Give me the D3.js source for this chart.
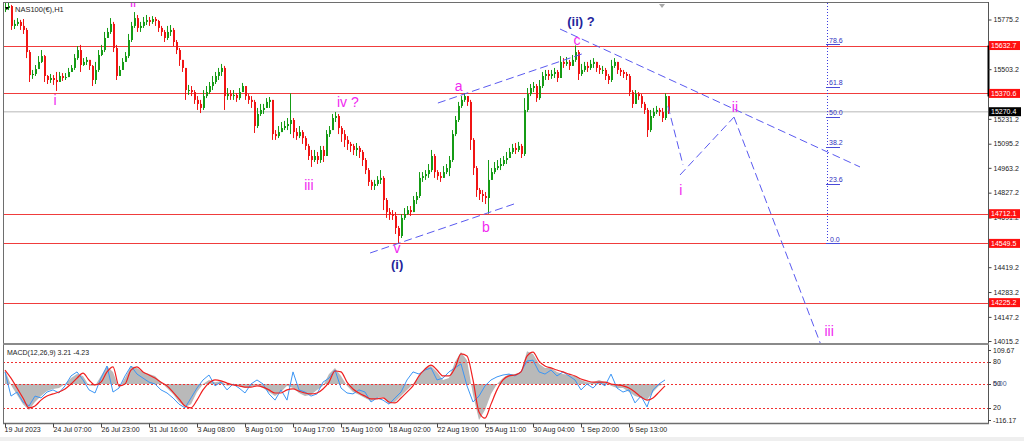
<!DOCTYPE html>
<html><head><meta charset="utf-8">
<script src="https://cdn.jsdelivr.net/npm/d3@7"></script>
<style>body{margin:0;background:#fff;overflow:hidden}svg{display:block}</style>
</head><body><svg id="c" width="1024" height="441"></svg>
<script>
// ---------- DATA ----------
const firstOpen = 15830;
const closes = [
15838,15849,15740,15751,15762,15740,15718,15597,15471,15477,
15504,15543,15575,15466,15444,15455,15444,15433,15466,15455,
15460,15488,15510,15564,15608,15526,15543,15554,15521,15444,
15499,15581,15608,15674,15707,15751,15619,15466,15499,15543,
15575,15663,15740,15783,15729,15740,15762,15772,15762,15778,
15767,15729,15707,15674,15707,15718,15652,15608,15554,15510,
15389,15389,15378,15335,15313,15291,15356,15378,15411,15433,
15466,15488,15510,15356,15367,15356,15362,15345,15378,15411,
15356,15335,15324,15192,15258,15280,15291,15324,15335,15148,
15137,15159,15181,15192,15203,15225,15159,15137,15159,15126,
15083,15028,15006,15028,15006,15061,15028,15148,15170,15236,
15247,15181,15148,15116,15094,15083,15061,15072,15050,15006,
14951,14886,14864,14875,14897,14908,14787,14721,14710,14700,
14634,14590,14689,14710,14732,14721,14787,14809,14908,14918,
14929,14951,15028,14940,14918,14908,14940,14962,15006,15148,
15225,15302,15335,15356,15324,15116,14962,14842,14820,14809,
14798,14897,14940,14962,14973,14984,15006,15017,15050,15072,
15061,15083,15039,15280,15367,15400,15411,15345,15411,15466,
15477,15466,15477,15488,15455,15543,15532,15543,15521,15554,
15597,15477,15499,15521,15510,15532,15543,15510,15499,15499,
15466,15444,15521,15543,15499,15488,15477,15466,15378,15313,
15367,15356,15313,15280,15170,15247,15269,15280,15269,15236,
15356,15270.4];
const highs = [
15866,15866,15855,15773,15783,15773,15778,15729,15608,15499,
15526,15575,15608,15581,15471,15477,15471,15488,15488,15482,
15482,15510,15526,15586,15630,15636,15564,15570,15554,15526,
15543,15608,15636,15707,15729,15783,15762,15636,15521,15564,
15597,15696,15762,15816,15800,15762,15789,15800,15789,15794,
15789,15773,15740,15718,15740,15745,15729,15663,15619,15554,
15510,15417,15411,15389,15356,15335,15389,15411,15433,15466,
15488,15510,15532,15521,15400,15389,15389,15373,15400,15428,
15411,15367,15356,15335,15291,15313,15313,15345,15351,15335,
15170,15192,15214,15220,15236,15371,15236,15181,15192,15170,
15137,15094,15061,15061,15050,15083,15083,15170,15192,15258,
15269,15258,15192,15170,15137,15105,15094,15099,15083,15061,
15017,14962,14897,14897,14918,14951,14918,14798,14743,14732,
14721,14645,14710,14743,14754,14754,14809,14831,14940,14940,
14951,14984,15061,15039,14951,14940,14973,14984,15028,15170,
15247,15324,15356,15371,15356,15335,15126,14973,14853,14842,
14831,15006,14962,14995,15006,15017,15028,15050,15072,15094,
15099,15105,15094,15345,15400,15422,15433,15422,15444,15488,
15499,15499,15499,15510,15499,15575,15564,15570,15554,15581,
15633,15608,15532,15543,15543,15554,15564,15543,15526,15521,
15510,15477,15554,15564,15543,15510,15499,15488,15477,15389,
15389,15378,15367,15324,15291,15280,15291,15302,15291,15291,
15371,15356];
const lows = [
15816,15827,15718,15723,15740,15718,15696,15564,15433,15450,
15466,15510,15537,15433,15422,15428,15417,15384,15433,15439,
15444,15460,15488,15499,15554,15488,15521,15526,15499,15411,
15422,15488,15575,15597,15674,15696,15597,15444,15466,15499,
15543,15564,15652,15729,15707,15707,15729,15745,15740,15751,
15740,15707,15685,15652,15663,15685,15630,15586,15521,15488,
15335,15362,15356,15313,15280,15263,15280,15345,15367,15389,
15422,15444,15466,15280,15335,15335,15335,15324,15335,15378,
15335,15313,15291,15154,15181,15247,15258,15291,15291,15116,
15116,15126,15159,15170,15170,15148,15126,15116,15126,15094,
15061,15006,14968,14995,14984,14990,14995,15061,15132,15181,
15214,15148,15105,15077,15061,15050,15033,15028,15017,14973,
14929,14864,14842,14842,14864,14875,14732,14689,14678,14678,
14601,14550,14579,14678,14705,14700,14721,14765,14798,14886,
14897,14908,14940,14908,14897,14886,14908,14929,14918,14995,
15137,15214,15291,15324,15302,15061,14924,14804,14787,14776,
14765,14712,14897,14929,14951,14951,14973,14984,15017,15039,
15039,15050,15017,15028,15269,15356,15378,15324,15335,15400,
15444,15444,15450,15455,15433,15455,15510,15521,15499,15521,
15543,15444,15466,15488,15488,15499,15510,15488,15477,15477,
15444,15422,15433,15510,15477,15466,15455,15444,15356,15291,
15313,15335,15291,15258,15132,15159,15236,15258,15247,15214,
15225,15258];

// MACD panel samples (one sample every macdStep bars)
const macdStep = 2;
const macdHist = [45,-3,-35,-65,-84,-58,-39,-23,-16,-13, 0,19,32,26,-6,-6,26,58,39,-13, 19,58,52,39,32,26,6,-13,-32,-58, -74,-65,-26,0,13,6,10,-6,-3,-6, -13,-10,-3,-13,-26,-39,-26,-6,-13,-29, -39,-35,-19,-6,32,52,26,-6,-26,-35, -45,-55,-45,-42,-65,-58,-39,-19,0,26, 52,58,39,13,19,71,103,77,-35,-116, -84,-32,0,19,32,32,39,106,97,65, 52,52,39,32,29,26,13,6,6,13, 6,-6,-13,-13,-26,-39,-45,-52,-26,-6, 0];
const macdSignal = [45,19,-13,-45,-77,-71,-52,-39,-32,-26, -16,0,19,35,13,-3,6,39,55,-6, 0,45,55,39,29,19,6,-6,-26,-48, -71,-77,-52,-19,3,13,10,3,-3,-6, -10,-10,-6,-10,-19,-29,-29,-19,-16,-23, -29,-32,-29,-16,6,42,39,6,-16,-29, -39,-48,-48,-45,-58,-61,-45,-26,-6,26, 48,61,45,26,26,52,97,90,13,-90, -110,-65,-19,13,26,29,39,90,103,74, 58,52,45,39,32,26,16,10,6,6, 6,0,-3,-6,-13,-26,-42,-52,-45,-26, -6];
const macdBlue = [39,-39,-26,-58,-71,-39,-45,-26,-19,-29, -6,26,39,13,-19,-29,19,58,-26,-13, 26,58,32,19,6,0,-19,-29,-45,-65, -77,-45,-13,13,29,-6,6,-19,0,-13, -29,0,13,0,-32,-52,-19,-52,39,-19, -26,-39,-32,6,19,45,-13,-29,-32,-19, -26,-58,-45,-52,-65,-45,-26,13,39,32, 45,52,13,19,39,52,65,-6,-58,-39, -6,13,23,29,32,26,39,74,77,39, 32,45,26,39,26,13,-19,0,-13,6, -6,32,-13,-26,-19,-61,-39,-74,-19,0, 13];
const macdRange = [-116.17, 109.67];
const macdLevels = [72, 0, -77];
const macdLevelLabels = ["80", "50", "20"];

const priceRange = [14015.2, 15775.2];
const priceTicks = [15775.2,15503.2,15231.2,15095.2,14963.2,14827.2,14691.2,14419.2,14283.2,14147.2,14015.2];
const levelPrices = [15632.7, 15370.6, 14712.1, 14549.5, 14225.2];
const currentPrice = 15270.4;

const timeTickIdx = [0,16,32,48,64,80,96,112,128,144,160,176,192,208];
const timeLabels = ["19 Jul 2023","24 Jul 07:00","26 Jul 23:00","31 Jul 16:00","3 Aug 08:00","8 Aug 01:00","10 Aug 17:00","15 Aug 10:00","18 Aug 02:00","22 Aug 19:00","25 Aug 11:00","30 Aug 04:00","1 Sep 20:00","6 Sep 13:00"];

const waveText  = ["ii","i","iii","iv ?","v","(i)","a","b","c","(ii) ?","i","ii","iii"];
const waveIdx   = [42.7,16.7,101.3,114.3,130.7,130.7,151.2,160.3,190.7,192,225.3,243.3,274.7];
const wavePrice = [15844,15307,14842,15296,14497,14412,15384,14612,15636,15740,14814,15269,14043];
const waveKind  = ["m","m","m","m","m","b","m","m","m","b","m","m","m"];

const dashedLines = [
  [[121.7,14497],[170.7,14771]],
  [[144.3,15318],[193.3,15592]],
  [[185,15723],[285,14968]],
  [[221,15300],[226,14979]],
  [[225,14924],[243,15241]],
  [[243,15241],[272,13993]]
];

const fibLevels = [0, 23.6, 38.2, 50, 61.8, 78.6];
const fibLow = 14549.5, fibHigh = 15936, fibIdx = 274;

// ---------- DRAW ----------
const svg = d3.select("#c");
const L = 3, R = 988, T = 3, MB = 344, MT = 345, BB = 423.5;
const x = d3.scaleLinear().domain([0, closes.length - 1]).range([5, 668]);
const y = d3.scaleLinear().domain(priceRange).range([341, 19.5]);
const ym = d3.scaleLinear().domain(macdRange).range([420, 350]);

const defs = svg.append("defs");
defs.append("clipPath").attr("id","cm").append("rect").attr("x",L+1).attr("y",T).attr("width",R-L-1).attr("height",MB-T);
defs.append("clipPath").attr("id","cd").append("rect").attr("x",L+1).attr("y",MT+1).attr("width",R-L-1).attr("height",BB-MT-1.5);

svg.append("rect").attr("x",0).attr("y",437).attr("width",1024).attr("height",4).attr("fill","#efefef");

const main = svg.append("g").attr("clip-path","url(#cm)");

main.append("line").attr("x1",L).attr("x2",R).attr("y1",y(currentPrice)).attr("y2",y(currentPrice))
  .attr("stroke","#cfcfcf").attr("stroke-width",1.5);
main.selectAll("line.lvl").data(levelPrices).join("line").attr("class","lvl")
  .attr("x1",L).attr("x2",R).attr("y1",d=>Math.round(y(d))+0.5).attr("y2",d=>Math.round(y(d))+0.5)
  .attr("stroke","#f03c3c").attr("stroke-width",1);

const candles = closes.map((c,i)=>{
  const o = i ? closes[i-1] : firstOpen;
  return {i, o, c, h: Math.max(highs[i],o,c), l: Math.min(lows[i],o,c)};
});
const GREEN = "#159b15", RED = "#f01414";
const cg = main.append("g");
cg.selectAll("line").data(candles).join("line")
  .attr("x1",d=>Math.round(x(d.i))+0.5).attr("x2",d=>Math.round(x(d.i))+0.5)
  .attr("y1",d=>y(d.h)).attr("y2",d=>y(d.l))
  .attr("stroke",d=>d.c>=d.o?GREEN:RED).attr("stroke-width",1);
cg.selectAll("rect").data(candles).join("rect")
  .attr("x",d=>Math.round(x(d.i))).attr("width",2)
  .attr("y",d=>y(Math.max(d.o,d.c))).attr("height",d=>Math.max(1,Math.abs(y(d.o)-y(d.c))))
  .attr("fill",d=>d.c>=d.o?GREEN:RED);

const ln = d3.line().x(d=>x(d[0])).y(d=>y(d[1]));
main.selectAll("path.dl").data(dashedLines).join("path").attr("class","dl")
  .attr("d",ln).attr("fill","none").attr("stroke","#5a5af0").attr("stroke-width",1)
  .attr("stroke-dasharray","8,4");

const fibY = l => y(fibLow + (fibHigh-fibLow)*l/100);
main.append("line").attr("x1",Math.round(x(fibIdx))+0.5).attr("x2",Math.round(x(fibIdx))+0.5)
  .attr("y1",T).attr("y2",fibY(0)).attr("stroke","#3a3ae0").attr("stroke-width",1).attr("stroke-dasharray","1,2");
const fg = main.append("g");
fg.selectAll("line").data(fibLevels).join("line")
  .attr("x1",x(fibIdx)-1).attr("x2",x(fibIdx)+13).attr("y1",d=>Math.round(fibY(d))+0.5).attr("y2",d=>Math.round(fibY(d))+0.5)
  .attr("stroke","#4a4ad8").attr("stroke-width",1);
fg.selectAll("text").data(fibLevels).join("text")
  .attr("x",d=>x(fibIdx)+(d===0?3:2)).attr("y",d=>fibY(d)-1.5)
  .attr("font-family","Liberation Sans, Arial, sans-serif").attr("font-size",7).attr("fill","#3030c0")
  .text(d=>d.toFixed(1));

main.selectAll("text.w").data(waveText).join("text").attr("class","w")
  .attr("x",(d,i)=>x(waveIdx[i])).attr("y",(d,i)=>y(wavePrice[i]))
  .attr("text-anchor","middle")
  .attr("font-family","Liberation Sans, Arial, sans-serif")
  .attr("font-size",(d,i)=>waveKind[i]==="m"?14:13)
  .attr("font-weight",(d,i)=>waveKind[i]==="m"?"normal":"bold")
  .attr("fill",(d,i)=>waveKind[i]==="m"?"#f028f0":"#24249c")
  .text(d=>d);

svg.append("path").attr("d","M5,7 L9,7 L7,10 Z").attr("fill","#000");
svg.append("path").attr("d","M659,4 L665,4 L662,8 Z").attr("fill","#a8a8a8");
svg.append("text").attr("x",15).attr("y",12).attr("font-family","Liberation Sans, Arial, sans-serif")
  .attr("font-size",7.5).attr("fill","#222").text("NAS100(€),H1");

// ----- MACD -----
const md = svg.append("g").attr("clip-path","url(#cd)");
const mx = (d,i) => x(i*macdStep);
md.append("path").datum(macdHist)
  .attr("d", d3.area().x(mx).y0(ym(0)).y1(d=>ym(d)))
  .attr("fill","#b9b9b9");
md.selectAll("line.ml").data(macdLevels).join("line").attr("class","ml")
  .attr("x1",L).attr("x2",R).attr("y1",d=>Math.round(ym(d))+0.5).attr("y2",d=>Math.round(ym(d))+0.5)
  .attr("stroke","#f03030").attr("stroke-width",1).attr("stroke-dasharray","2,2");
md.append("path").datum(macdBlue)
  .attr("d", d3.line().x(mx).y(d=>ym(d)))
  .attr("fill","none").attr("stroke","#3c96f5").attr("stroke-width",1);
md.append("path").datum(macdSignal)
  .attr("d", d3.line().x(mx).y(d=>ym(d)).curve(d3.curveMonotoneX))
  .attr("fill","none").attr("stroke","#f02020").attr("stroke-width",1.2);
svg.append("text").attr("x",7).attr("y",355).attr("font-family","Liberation Sans, Arial, sans-serif")
  .attr("font-size",7).attr("fill","#222").text("MACD(12,26,9) 3.21 -4.23");

// ----- frames -----
svg.append("line").attr("x1",L).attr("x2",R).attr("y1",2.5).attr("y2",2.5).attr("stroke","#6e6e6e");
svg.append("line").attr("x1",L+0.5).attr("x2",L+0.5).attr("y1",2).attr("y2",BB).attr("stroke","#6e6e6e");
svg.append("line").attr("x1",R+0.5).attr("x2",R+0.5).attr("y1",2).attr("y2",BB).attr("stroke","#555");
svg.append("rect").attr("x",L).attr("y",MB-1).attr("width",R-L+1).attr("height",2).attr("fill","#8a8a8a");
svg.append("line").attr("x1",L).attr("x2",R+1).attr("y1",BB).attr("y2",BB).attr("stroke","#6e6e6e").attr("stroke-width",1.5);
svg.append("line").attr("x1",R+0.5).attr("x2",R+0.5).attr("y1",y(15632.7)).attr("y2",y(15370.6)+3).attr("stroke","#000").attr("stroke-width",2);

const FONT = "Liberation Sans, Arial, sans-serif";
const ax = svg.append("g").attr("transform",`translate(${R+0.5},0)`)
  .call(d3.axisRight(y).tickValues(priceTicks).tickFormat(d3.format(".1f")).tickSize(3).tickPadding(2));
ax.select(".domain").remove();
ax.selectAll("text").attr("font-family",FONT).attr("font-size",7).attr("fill","#222");
ax.selectAll("line").attr("stroke","#444");

const lb = svg.append("g");
lb.selectAll("rect").data(levelPrices).join("rect")
  .attr("x",R+1).attr("y",d=>y(d)-4.5).attr("width",31).attr("height",9).attr("fill","#ff1010");
lb.selectAll("text").data(levelPrices).join("text")
  .attr("x",R+3).attr("y",d=>y(d)+2.6).attr("font-family",FONT).attr("font-size",7).attr("fill","#fff")
  .text(d=>d.toFixed(1));
lb.append("rect").attr("x",R+1).attr("y",y(currentPrice)-4.5).attr("width",32).attr("height",9).attr("fill","#000");
lb.append("text").attr("x",R+3).attr("y",y(currentPrice)+2.6).attr("font-family",FONT).attr("font-size",7).attr("fill","#fff").text(currentPrice.toFixed(1));

const ma = svg.append("g").attr("font-family",FONT).attr("font-size",7).attr("fill","#222");
ma.append("text").attr("x",R+5).attr("y",ym(109.67)+2.5).text("109.67");
ma.append("text").attr("x",R+5).attr("y",ym(-116.17)+2.5).text("-116.17");
macdLevels.forEach((v,i)=>{
  ma.append("text").attr("x",R+5).attr("y",ym(v)+2.5).text(macdLevelLabels[i]);
});
ma.append("text").attr("x",R+5).attr("y",ym(0)+2.5).attr("fill","#4a5a8a").text("0.00");
[109.67,72,0,-77,-116.17].forEach(v=>{
  svg.append("line").attr("x1",R).attr("x2",R+3).attr("y1",Math.round(ym(v))+0.5).attr("y2",Math.round(ym(v))+0.5).attr("stroke","#444");
});

const tx = svg.append("g").attr("transform",`translate(0,${BB})`)
  .call(d3.axisBottom(x).tickValues(timeTickIdx).tickFormat((d,i)=>timeLabels[i]).tickSize(4).tickPadding(0));
tx.select(".domain").remove();
tx.selectAll("text").attr("text-anchor","start").attr("dx",(d,i)=>i===0?-1:0).attr("font-family",FONT).attr("font-size",7).attr("fill","#222");
tx.selectAll("line").attr("stroke","#444");
</script></body></html>
